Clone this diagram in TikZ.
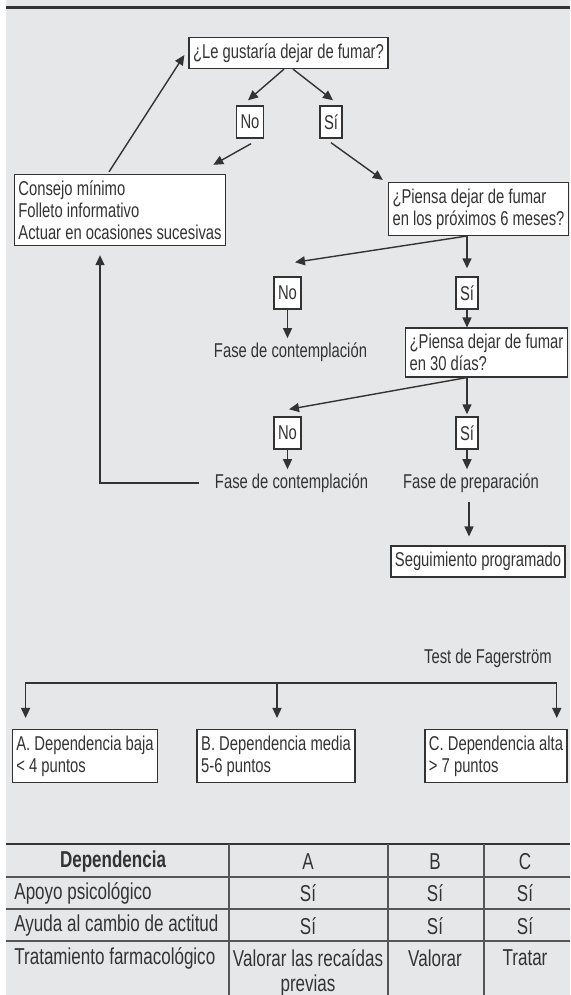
\documentclass[tikz,border=0pt]{standalone}
\usepackage{fontspec}
\setmainfont{Liberation Sans}[FakeStretch=0.74]
\usetikzlibrary{arrows.meta,calc}
\definecolor{bggray}{HTML}{E6E7E9}
\definecolor{ink}{HTML}{333333}
\definecolor{rule}{HTML}{555555}
\begin{document}
\begin{tikzpicture}[x=0.5pt,y=-0.5pt,
	font=\fontsize{10}{11}\selectfont, text=ink,
	box/.style={draw=ink, fill=white, line width=0.7pt, inner xsep=2pt, inner ysep=3pt, align=left},
	yn/.style={box, minimum height=16pt},
	lbl/.style={inner sep=0pt},
	cell/.style={inner sep=0pt, font=\fontsize{11.5}{12.5}\selectfont},
	arr/.style={draw=ink, line width=0.7pt, -{Triangle[length=5pt,width=4.5pt]}}]
	\useasboundingbox (0,0) rectangle (570,995);
	\fill[bggray] (6,0) rectangle (570,995);
	\draw[ink, line width=1.5pt] (6,7.5) -- (570,7.5);
	\node[box] at (288.5,53) (q1) {¿Le gustaría dejar de fumar?};
	\node[yn] at (250,122) (no1) {No};
	\node[yn] at (331,122) (si1) {Sí};
	\node[box] at (120,210) (consejo) {Consejo mínimo\\Folleto informativo\\Actuar en ocasiones sucesivas};
	\node[box] at (478.5,209) (p6) {¿Piensa dejar de fumar\\en los próximos 6 meses?};
	\node[yn] at (287.5,293) (no2) {No};
	\node[yn] at (467,293) (si2) {Sí};
	\node[lbl] at (290.5,352) (fc1) {Fase de contemplación};
	\node[box] at (486.5,352.5) (p30) {¿Piensa dejar de fumar\\en 30 días?};
	\node[yn] at (287.5,433) (no3) {No};
	\node[yn] at (467,433) (si3) {Sí};
	\node[lbl] at (291.5,483) (fc2) {Fase de contemplación};
	\node[lbl] at (471,483) (fp) {Fase de preparación};
	\node[box] at (478,561.5) (seg) {Seguimiento programado};
	\node[lbl, anchor=east] at (552,658) (test) {Test de Fagerström};
	\coordinate (fg) at (277,683);
	\node[box] at (85,756) (dA) {A. Dependencia baja\\< 4 puntos};
	\node[box] at (276,756) (dB) {B. Dependencia media\\5-6 puntos};
	\node[box] at (496,756) (dC) {C. Dependencia alta\\> 7 puntos};
	\draw[arr] ($(q1.south)+(-4.5,0)$) -- ($(no1.north)+(-2,-5)$);
	\draw[arr] ($(q1.south)+(4.5,0)$) -- ($(si1.north)+(2,-5)$);
	\draw[arr] ($(no1.south)+(1,5)$) -- ($(consejo.north east)+(-13,-9)$);
	\draw[arr] ($(si1.south)+(0,4)$) -- ($(p6.north west)+(-5,-2)$);
	\draw[arr] ($(consejo.north)+(-11,-2)$) -- ($(q1.west)+(-4,2)$);
	\draw[arr] ($(p6.south)+(-11.5,0)$) -- ($(no2.north)+(7.5,-14)$);
	\draw[arr] ($(p6.south)+(-11.5,0)$) -- ($(si2.north)+(0,-8)$);
	\draw[arr, shorten >=2pt] (no2) -- (no2 |- fc1.north);
	\draw[arr] (si2) -- (si2 |- p30.north);
	\draw[arr] ($(p30.south)+(-19.5,0)$) -- ($(si3.north)+(0,-2)$);
	\draw[arr] ($(p30.south)+(-19.5,0)$) -- ($(no3.north)+(1.5,-7)$);
	\draw[arr, shorten >=2pt] (no3) -- (no3 |- fc2.north);
	\draw[arr, shorten >=2pt] (si3) -- (si3 |- fp.north);
	\draw[arr] ($(fp.south)+(-2,9)$) -- ($(seg.north)+(-9,-9)$);
	\draw[arr] ($(fc2.west)+(-16,0)$) -| ($(consejo.south)+(-20,9)$);
	\draw[arr] (fg) -| ($(dA.north west)+(14,-11)$);
	\draw[arr] (fg) -| ($(dC.north east)+(-11,-11)$);
	\draw[arr] (fg) -- ($(dB.north)+(1,-11)$);
	\draw[ink, line width=1.2pt] (6,844) -- (570,844);
	\draw[rule, line width=1pt] (6,877) -- (570,877) (6,909) -- (570,909) (6,941) -- (570,941);
	\draw[rule, line width=1pt] (229,844) -- (229,995) (388,844) -- (388,995) (484,844) -- (484,995);
	\node[cell, font=\fontsize{11.5}{12.5}\selectfont\bfseries] at (113,862) (hdep) {Dependencia};
	\node[cell] at (308,862) (hA) {A};
	\node[cell] at (435,862) (hB) {B};
	\node[cell] at (525,862) (hC) {C};
	\node[cell, anchor=west] at (14,893) (r1) {Apoyo psicológico};
	\node[cell] at (308,893) (r1a) {Sí};
	\node[cell] at (435,893) (r1b) {Sí};
	\node[cell] at (525,893) (r1c) {Sí};
	\node[cell, anchor=west] at (14,926) (r2) {Ayuda al cambio de actitud};
	\node[cell] at (308,926) (r2a) {Sí};
	\node[cell] at (435,926) (r2b) {Sí};
	\node[cell] at (525,926) (r2c) {Sí};
	\node[cell, anchor=west] at (14,958) (r3) {Tratamiento farmacológico};
	\node[cell, align=center, anchor=north] at (308,949) (r3a) {Valorar las recaídas\\previas};
	\node[cell] at (435,958) (r3b) {Valorar};
	\node[cell] at (525,958) (r3c) {Tratar};
\end{tikzpicture}
\end{document}
